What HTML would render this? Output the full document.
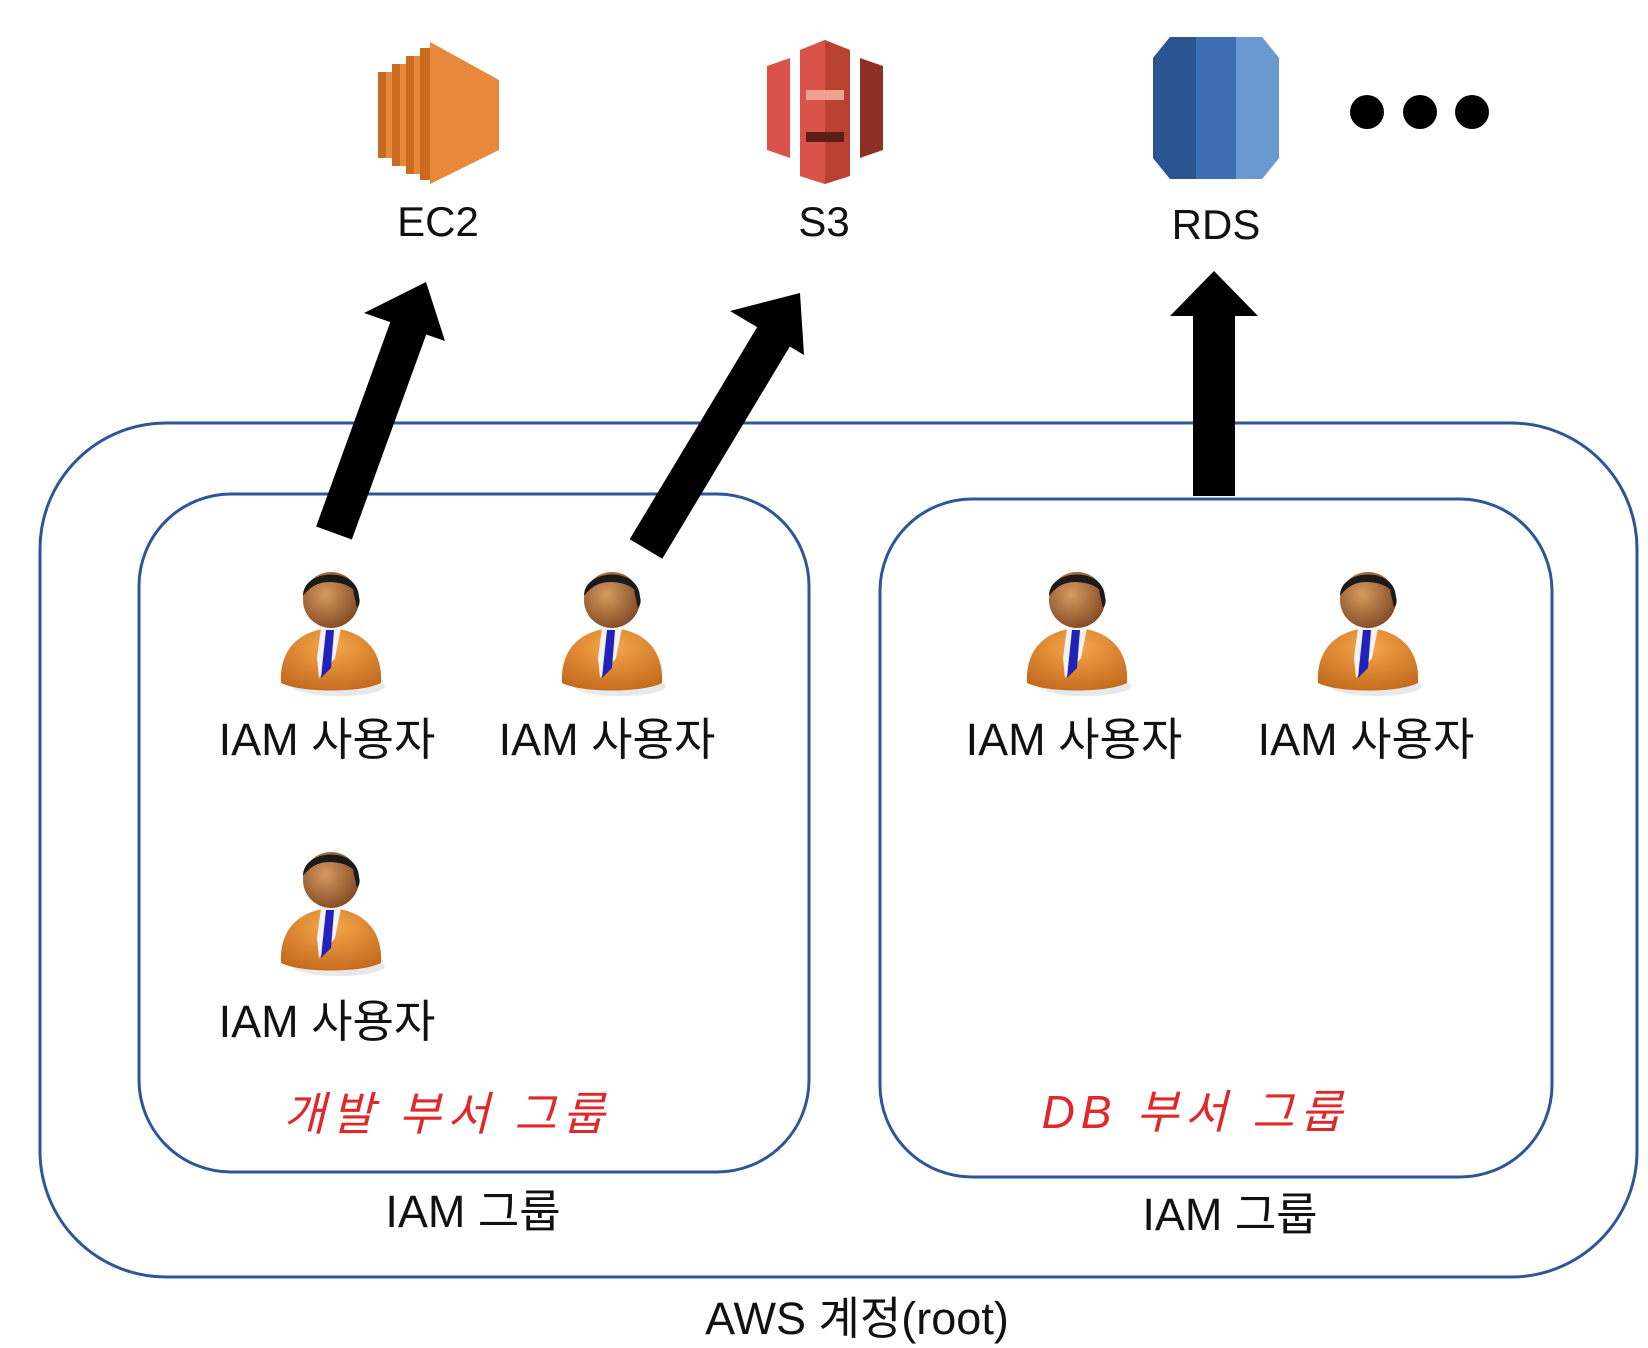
<!DOCTYPE html>
<html><head><meta charset="utf-8"><style>
html,body{margin:0;padding:0;background:#fff;}
svg{display:block;}
text{font-family:"Liberation Sans","Noto Sans CJK KR",sans-serif;fill:#111;}
</style></head><body>
<svg width="1648" height="1348" viewBox="0 0 1648 1348" xmlns="http://www.w3.org/2000/svg">
<defs>
<radialGradient id="face" cx="0.4" cy="0.4" r="0.7"><stop offset="0" stop-color="#d89a60"/><stop offset="1" stop-color="#7a4420"/></radialGradient>
<radialGradient id="suit" cx="0.5" cy="0.3" r="0.8"><stop offset="0" stop-color="#f6a84a"/><stop offset="1" stop-color="#c0651a"/></radialGradient>
<g id="user">
<ellipse cx="8" cy="48" rx="46" ry="10" fill="#e8e8e8"/>
<path d="M-50,45 C-52,10 -30,-8 0,-10 C30,-8 52,10 50,45 C30,55 -30,55 -50,45Z" fill="url(#suit)"/>
<path d="M-10,-10 L10,-10 L4,20 L-12,40 L-14,20Z" fill="#f2f2f2"/>
<path d="M-5,-8 L3,-8 L0,30 L-10,40 L-8,20Z" fill="#2222bb"/>
<circle cx="0" cy="-38" r="28" fill="url(#face)"/>
<path d="M-28,-42 C-28,-70 28,-72 28,-40 C24,-52 10,-56 -2,-56 C-14,-56 -22,-50 -28,-42Z" fill="#1a1a1a"/>
<path d="M22,-48 C30,-44 30,-34 26,-30 Z" fill="#1a1a1a"/>
</g>
</defs>

<rect x="40" y="423" width="1597" height="854" rx="126" fill="none" stroke="#2f5597" stroke-width="3"/>
<rect x="139" y="494" width="670" height="678" rx="92" fill="none" stroke="#2f5597" stroke-width="3"/>
<rect x="880" y="499" width="672" height="678" rx="92" fill="none" stroke="#2f5597" stroke-width="3"/>

<g>
<polygon points="430,42 499,80 499,150 430,184" fill="#e8883c"/>
<rect x="378" y="72" width="8" height="86" fill="#c86a20"/>
<rect x="392" y="64" width="8" height="102" fill="#c86a20"/>
<rect x="406" y="56" width="8" height="118" fill="#c86a20"/>
<rect x="420" y="48" width="10" height="132" fill="#c86a20"/>
<rect x="386" y="72" width="6" height="86" fill="#e8883c"/>
<rect x="400" y="64" width="6" height="102" fill="#e8883c"/>
<rect x="414" y="56" width="6" height="118" fill="#e8883c"/>
</g>
<text x="438" y="236" font-size="42" text-anchor="middle">EC2</text>

<g>
<polygon points="767,66 790,58 790,158 767,150" fill="#d9534a"/>
<polygon points="883,66 860,58 860,158 883,150" fill="#8c3023"/>
<polygon points="800,50 825,40 850,50 850,176 825,184 800,176" fill="#b8412f"/>
<polygon points="800,50 825,40 825,184 800,176" fill="#d9534a"/>
<rect x="806" y="90" width="38" height="10" fill="#f0a090"/>
<rect x="806" y="132" width="38" height="10" fill="#5a1e16"/>
</g>
<text x="824" y="236" font-size="42" text-anchor="middle">S3</text>

<g>
<path d="M1170,37 L1262,37 L1279,58 L1279,158 L1262,179 L1170,179 L1153,158 L1153,58Z" fill="#3e6fb3"/>
<path d="M1170,37 L1196,37 L1196,179 L1170,179 L1153,158 L1153,58Z" fill="#2b5590"/>
<path d="M1236,37 L1262,37 L1279,58 L1279,158 L1262,179 L1236,179Z" fill="#6a98d0"/>
</g>
<text x="1216" y="239" font-size="42" text-anchor="middle">RDS</text>

<circle cx="1367" cy="112" r="17" fill="#000"/>
<circle cx="1420" cy="112" r="17" fill="#000"/>
<circle cx="1472" cy="112" r="17" fill="#000"/>

<g fill="#000">
<line x1="334" y1="533" x2="412" y2="318" stroke="#000" stroke-width="38"/>
<polygon points="426,282 445,341 364,313"/>
<line x1="646" y1="549" x2="780" y2="326" stroke="#000" stroke-width="38"/>
<polygon points="800,293 804,355 730,311"/>
<rect x="1193" y="312" width="42" height="184"/>
<polygon points="1214,271 1258,316 1170,316"/>
</g>

<use href="#user" transform="translate(331,638)"/>
<use href="#user" transform="translate(612,638)"/>
<use href="#user" transform="translate(1077,638)"/>
<use href="#user" transform="translate(1368,638)"/>
<use href="#user" transform="translate(331,918)"/>

<g font-size="45" text-anchor="middle">
<text x="327" y="755">IAM 사용자</text>
<text x="607" y="755">IAM 사용자</text>
<text x="1074" y="755">IAM 사용자</text>
<text x="1366" y="755">IAM 사용자</text>
<text x="327" y="1037">IAM 사용자</text>
<text x="473" y="1227">IAM 그룹</text>
<text x="1230" y="1230">IAM 그룹</text>
<text x="857" y="1334">AWS 계정(root)</text>
</g>
<g font-size="46" text-anchor="middle" font-style="italic">
<text x="447" y="1130" style="fill:#e0282a" letter-spacing="6">개발 부서 그룹</text>
<text x="1195" y="1128" style="fill:#e0282a" letter-spacing="6">DB 부서 그룹</text>
</g>
</svg>
</body></html>
